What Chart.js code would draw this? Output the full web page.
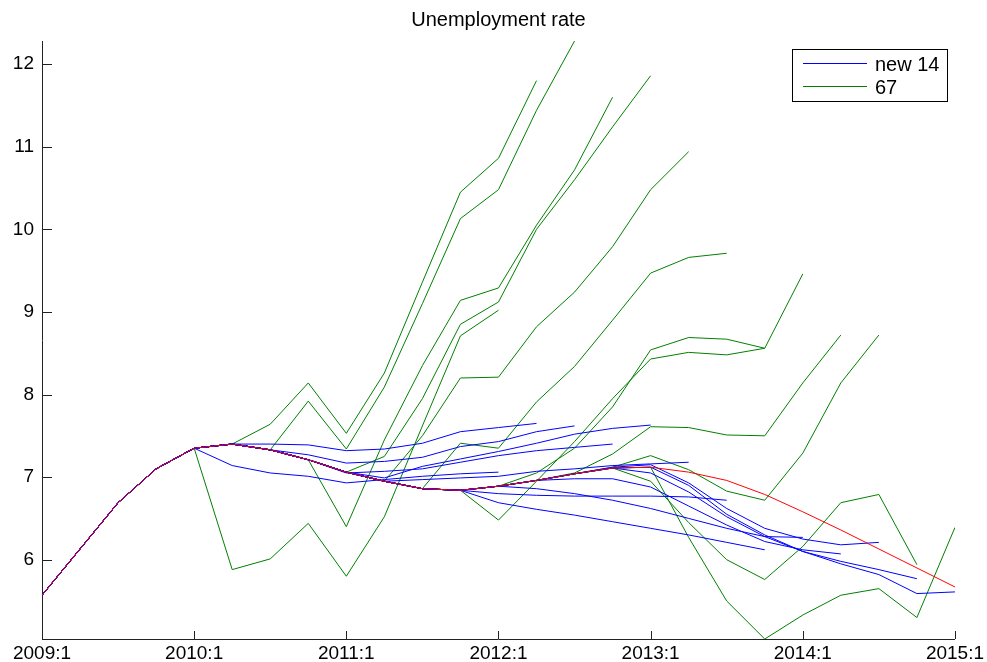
<!DOCTYPE html>
<html>
<head>
<meta charset="utf-8">
<script src="https://cdn.jsdelivr.net/npm/chart.js@4.4.1/dist/chart.umd.min.js"></script>
<style>
  html, body { margin: 0; padding: 0; background: #fff; }
  #wrap { width: 987px; height: 662px; }
</style>
</head>
<body>
<div id="wrap"><canvas id="c" width="987" height="662"></canvas></div>
<script>
// quarters 2009:1 .. 2015:1 -> x = 0 .. 24
var yearLabels = ["2009:1", "2010:1", "2011:1", "2012:1", "2013:1", "2014:1", "2015:1"];
var xTicks = [0, 4, 8, 12, 16, 20, 24];
var yTicks = [6, 7, 8, 9, 10, 11, 12];

// outturn (red)
var actual = [5.57, 6.13, 6.69, 7.10, 7.35, 7.40, 7.33, 7.21, 7.06, 6.95, 6.86, 6.84, 6.89,
              6.96, 7.04, 7.11, 7.12, 7.06, 6.96, 6.79, 6.58, 6.36, 6.13, 5.90, 5.67];

// forecast origins (quarter index), each forecast runs 8 quarters ahead
var vintages = [4, 5, 6, 7, 8, 9, 10, 11, 12, 13, 14, 15, 16];

// "new 14" (blue)
var newFc = [
  [7.14, 7.05, 7.01, 6.93, 6.97, 7.01, 7.04, 7.06],
  [7.40, 7.39, 7.32, 7.34, 7.41, 7.55, 7.60, 7.65],
  [7.27, 7.17, 7.19, 7.24, 7.37, 7.43, 7.55, 7.62],
  [7.05, 7.07, 7.10, 7.18, 7.26, 7.32, 7.36, 7.40],
  [6.99, 7.13, 7.22, 7.31, 7.41, 7.52, 7.59, 7.63],
  [6.97, 6.99, 7.01, 7.07, 7.10, 7.14, 7.16, 7.18],
  [6.84, 6.80, 6.78, 6.77, 6.77, 6.77, 6.76, 6.72],
  [6.69, 6.61, 6.54, 6.46, 6.38, 6.30, 6.21, 6.12],
  [6.86, 6.80, 6.72, 6.62, 6.50, 6.38, 6.28, 6.27],
  [6.98, 6.98, 6.88, 6.65, 6.42, 6.22, 6.12, 6.07],
  [7.12, 7.15, 6.93, 6.62, 6.38, 6.25, 6.18, 6.21],
  [7.05, 6.82, 6.52, 6.28, 6.10, 5.98, 5.88, 5.77],
  [6.90, 6.55, 6.30, 6.10, 5.95, 5.82, 5.59, 5.61]
];

// "67" (green)
var oldFc = [
  [5.88, 6.01, 6.44, 5.80, 6.52, 7.62, 8.71, 9.02],
  [7.64, 8.14, 7.53, 8.26, 9.36, 10.45, 10.86, 11.80],
  [7.92, 7.34, 8.09, 9.10, 10.13, 10.48, 11.44, 12.28],
  [6.40, 7.45, 8.35, 9.14, 9.29, 10.05, 10.72, 11.60],
  [7.25, 7.95, 8.85, 9.12, 10.00, 10.60, 11.24, 11.86],
  [7.50, 8.20, 8.21, 8.82, 9.24, 9.79, 10.48, 10.94],
  [7.41, 7.35, 7.91, 8.34, 8.90, 9.47, 9.66, 9.71],
  [6.48, 6.95, 7.43, 7.95, 8.43, 8.51, 8.48, 8.56],
  [7.05, 7.35, 7.85, 8.54, 8.69, 8.67, 8.56, 9.46],
  [7.05, 7.28, 7.61, 7.60, 7.51, 7.50, 8.14, 8.72],
  [7.12, 7.26, 7.09, 6.83, 6.72, 7.29, 8.14, 8.72],
  [6.95, 6.45, 6.00, 5.76, 6.16, 6.69, 6.79, 5.94],
  [6.27, 5.50, 5.04, 5.33, 5.57, 5.65, 5.30, 6.39]
];

var BLUE = "#0000ff", GREEN = "#008000", RED = "#ff0000";
var FONT = "'Liberation Sans', Arial, sans-serif";

// history up to the origin, then the forecast
function series(v, fc) {
  var pts = [];
  for (var q = 0; q <= v; q++) pts.push({ x: q, y: actual[q] });
  for (var i = 0; i < fc.length; i++) pts.push({ x: v + 1 + i, y: fc[i] });
  return pts;
}

function lineSet(label, pts, color) {
  return { label: label, data: pts, borderColor: color, borderWidth: 1,
           pointRadius: 0, tension: 0, fill: false };
}

var datasets = [];
datasets.push(lineSet("actual", actual.map(function (v, q) { return { x: q, y: v }; }), RED));
vintages.forEach(function (v, i) { datasets.push(lineSet("new 14", series(v, newFc[i]), BLUE)); });
vintages.forEach(function (v, i) { datasets.push(lineSet("67", series(v, oldFc[i]), GREEN)); });

// title, legend box and inward tick marks
var decor = {
  id: "decor",
  afterDraw: function (chart) {
    var ctx = chart.ctx, a = chart.chartArea, sx = chart.scales.x, sy = chart.scales.y;
    ctx.save();
    ctx.strokeStyle = "#222";
    ctx.lineWidth = 1;
    ctx.beginPath();
    sx.ticks.forEach(function (t) {
      var px = Math.round(sx.getPixelForValue(t.value)) + 0.5;
      ctx.moveTo(px, a.bottom); ctx.lineTo(px, a.bottom - 8);
    });
    sy.ticks.forEach(function (t) {
      var py = Math.round(sy.getPixelForValue(t.value)) + 0.5;
      ctx.moveTo(a.left, py); ctx.lineTo(a.left + 10, py);
    });
    ctx.stroke();

    ctx.fillStyle = "#000";
    ctx.font = "20px " + FONT;
    ctx.textAlign = "center";
    ctx.textBaseline = "middle";
    ctx.fillText("Unemployment rate", (a.left + a.right) / 2, 20);

    // legend
    ctx.fillStyle = "#fff";
    ctx.fillRect(792.5, 49.5, 155, 52);
    ctx.strokeStyle = "#000";
    ctx.strokeRect(792.5, 49.5, 155, 52);
    ctx.strokeStyle = BLUE;
    ctx.beginPath(); ctx.moveTo(803, 63.5); ctx.lineTo(867, 63.5); ctx.stroke();
    ctx.strokeStyle = GREEN;
    ctx.beginPath(); ctx.moveTo(803, 86.5); ctx.lineTo(867, 86.5); ctx.stroke();
    ctx.fillStyle = "#000";
    ctx.font = "20px " + FONT;
    ctx.textAlign = "left";
    ctx.fillText("new 14", 875, 65);
    ctx.fillText("67", 875, 88);
    ctx.restore();
  }
};

var tickFont = { family: FONT, size: 19 };

new Chart(document.getElementById("c"), {
  type: "line",
  data: { datasets: datasets },
  options: {
    responsive: false,
    animation: false,
    events: [],
    layout: { padding: { top: 41, right: 31, left: 0, bottom: 0 } },
    plugins: { legend: { display: false }, title: { display: false }, tooltip: { enabled: false } },
    scales: {
      x: {
        type: "linear", min: 0, max: 24,
        afterBuildTicks: function (s) { s.ticks = xTicks.map(function (v) { return { value: v }; }); },
        afterFit: function (s) { s.height = 23; },
        grid: { display: false, drawTicks: false },
        border: { display: true, color: "#222", width: 1 },
        ticks: {
          color: "#000", font: tickFont, padding: 3, maxRotation: 0, autoSkip: false,
          callback: function (v) { return yearLabels[xTicks.indexOf(v)]; }
        }
      },
      y: {
        type: "linear", min: 5.04, max: 12.28,
        afterBuildTicks: function (s) { s.ticks = yTicks.map(function (v) { return { value: v }; }); },
        afterFit: function (s) { s.width = 42; },
        grid: { display: false, drawTicks: false },
        border: { display: true, color: "#222", width: 1 },
        ticks: { color: "#000", font: tickFont, padding: 8 }
      }
    }
  },
  plugins: [decor]
});
</script>
</body>
</html>
